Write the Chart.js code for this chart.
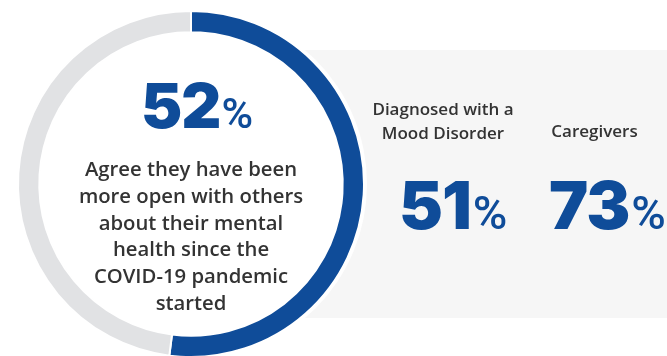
<!DOCTYPE html>
<html>
<head>
<meta charset="utf-8">
<script src="https://cdn.jsdelivr.net/npm/chart.js@4/dist/chart.umd.min.js"></script>
<style>
  html, body { margin: 0; padding: 0; background: #fff; }
  body { width: 667px; height: 356px; overflow: hidden; position: relative; }
  #wrap { position: absolute; left: 0; top: 0; width: 667px; height: 360px; }
  .t { position: absolute; white-space: nowrap; margin: 0; line-height: 1.2; }
  .caption { font-family: "Open Sans", sans-serif; font-weight: 600; font-size: 20.3px; color: #333; }
  .label { font-family: "Open Sans", sans-serif; font-weight: 600; font-size: 17px; color: #333; }
  .num { font-family: Inter, Roboto, sans-serif; font-weight: 900; color: #0f4c99; }
  .pct { font-family: Roboto, sans-serif; font-weight: 500; }
</style>
</head>
<body>
<div id="wrap"><canvas id="chart" width="667" height="360"></canvas></div>
<script>
// Survey share who agree vs. the rest of the ring
const ringLabels = ['Agree', 'Do not agree'];
const ringValues = [52, 48];

// Statement shown inside the ring, one entry per line
const captionLines = [
  'Agree they have been',
  'more open with others',
  'about their mental',
  'health since the',
  'COVID-19 pandemic',
  'started'
];

// Sub-groups shown on the side panel
const groupLabels = [['Diagnosed with a', 'Mood Disorder'], ['Caregivers']];
const groupValues = [51, 73];

const BLUE = '#0f4c99';
const RING_GRAY = '#e1e2e4';
const PANEL_GRAY = '#f6f6f6';

// Grey side panel and the white disc behind the ring
const backdrop = {
  id: 'backdrop',
  beforeDatasetsDraw(chart) {
    const ctx = chart.ctx;
    const arc = chart.getDatasetMeta(0).data[0];
    ctx.save();
    ctx.fillStyle = PANEL_GRAY;
    ctx.fillRect(300, 50, 367, 268);
    ctx.fillStyle = '#fff';
    ctx.beginPath();
    ctx.arc(arc.x, arc.y, arc.outerRadius + 3, 0, Math.PI * 2);
    ctx.fill();
    ctx.restore();
  }
};

new Chart(document.getElementById('chart'), {
  type: 'doughnut',
  data: {
    labels: ringLabels,
    datasets: [{
      data: ringValues,
      backgroundColor: [BLUE, RING_GRAY],
      borderColor: '#fff',
      borderWidth: 2
    }]
  },
  options: {
    responsive: false,
    devicePixelRatio: 1,
    animation: false,
    events: [],
    cutout: '87.7%',
    layout: { padding: { left: 17, top: 10, right: 302, bottom: 2 } },
    plugins: { legend: { display: false }, tooltip: { enabled: false } }
  },
  plugins: [backdrop]
});

// Place a text element so that its baseline sits at y
function place(el, x, y, align) {
  document.body.appendChild(el);
  const probe = document.createElement('span');
  probe.style.cssText = 'display:inline-block;width:0;height:0;vertical-align:baseline';
  el.appendChild(probe);
  el.style.left = '0px';
  el.style.top = '0px';
  const base = probe.offsetTop;
  el.removeChild(probe);
  const w = el.getBoundingClientRect().width;
  el.style.top = (y - base) + 'px';
  el.style.left = (align === 'center' ? x - w / 2 : x) + 'px';
}

function bigNumber(value, digitSize, pctSize, gap) {
  const el = document.createElement('div');
  el.className = 't num';
  el.style.fontSize = digitSize + 'px';
  el.style.letterSpacing = '-1px';
  const d = document.createElement('span');
  d.textContent = String(value);
  const p = document.createElement('span');
  p.className = 'pct';
  p.style.fontSize = pctSize + 'px';
  p.style.letterSpacing = '0';
  p.style.marginLeft = gap + 'px';
  p.textContent = '%';
  el.appendChild(d);
  el.appendChild(p);
  return el;
}

// Headline figure inside the ring
place(bigNumber(ringValues[0], 62, 43, 1), 141, 128, 'left');

captionLines.forEach((line, i) => {
  const el = document.createElement('div');
  el.className = 't caption';
  el.textContent = line;
  place(el, 191, 176 + i * 26.8, 'center');
});

// Side panel groups
const groupCenters = [443, 594.5];
const groupLastBaseline = [139, 137];
const valueLefts = [399, 549];
groupLabels.forEach((lines, g) => {
  lines.forEach((line, i) => {
    const el = document.createElement('div');
    el.className = 't label';
    el.textContent = line;
    const y = groupLastBaseline[g] - (lines.length - 1 - i) * 24;
    place(el, groupCenters[g], y, 'center');
  });
  place(bigNumber(groupValues[g], 66, 47, 2), valueLefts[g], 229, 'left');
});
</script>
</body>
</html>
